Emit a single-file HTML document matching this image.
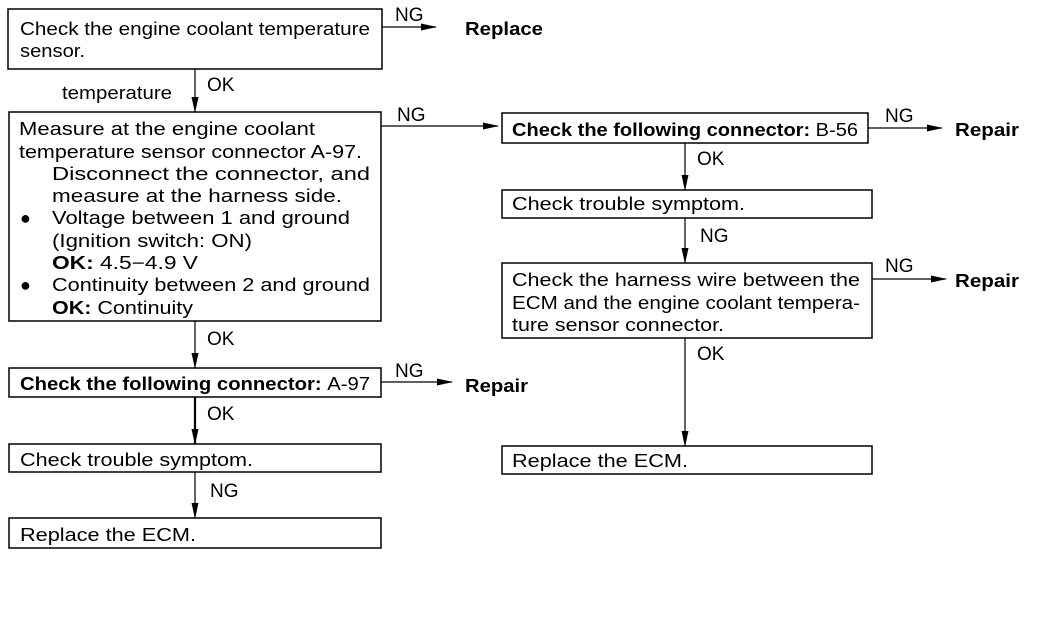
<!DOCTYPE html>
<html><head><meta charset="utf-8"><style>
html,body{margin:0;padding:0;background:#fff;}
svg{display:block;}
text{font-family:"Liberation Sans",sans-serif;font-size:18px;fill:#000;}
.b{font-weight:bold;}
.l{font-size:19px;}
</style></head><body>
<svg width="1040" height="624" viewBox="0 0 1040 624" xmlns="http://www.w3.org/2000/svg">
<defs>
<marker id="a" markerWidth="16" markerHeight="9" refX="15" refY="4.5" orient="auto" markerUnits="userSpaceOnUse">
<path d="M0,1 L16,4.5 L0,8 Z" fill="#000"/>
</marker>
</defs>
<g fill="none" stroke="#000" stroke-width="1.5">
<rect x="8" y="9" width="374" height="60"/>
<rect x="9" y="112" width="372" height="209"/>
<rect x="9" y="368" width="372" height="29"/>
<rect x="9" y="444" width="372" height="28"/>
<rect x="9" y="518" width="372" height="30"/>
<rect x="502" y="113" width="366" height="30"/>
<rect x="502" y="190" width="370" height="28"/>
<rect x="502" y="263" width="370" height="75"/>
<rect x="502" y="446" width="370" height="28"/>
</g>
<g stroke="#000" stroke-width="1.2" fill="none">
<line x1="382" y1="27" x2="436" y2="27" marker-end="url(#a)"/>
<line x1="195" y1="69" x2="195" y2="112" marker-end="url(#a)"/>
<line x1="381" y1="126" x2="498" y2="126" marker-end="url(#a)"/>
<line x1="868" y1="128" x2="942" y2="128" marker-end="url(#a)"/>
<line x1="685" y1="143" x2="685" y2="190" marker-end="url(#a)"/>
<line x1="685" y1="218" x2="685" y2="263" marker-end="url(#a)"/>
<line x1="872" y1="279" x2="946" y2="279" marker-end="url(#a)"/>
<line x1="685" y1="338" x2="685" y2="446" marker-end="url(#a)"/>
<line x1="195" y1="321" x2="195" y2="368" marker-end="url(#a)"/>
<line x1="381" y1="382" x2="452" y2="382" marker-end="url(#a)"/>
<line x1="195" y1="397" x2="195" y2="444" stroke-width="2.2" marker-end="url(#a)"/>
<line x1="195" y1="472" x2="195" y2="518" marker-end="url(#a)"/>
</g>
<text x="20" y="35" textLength="350" lengthAdjust="spacingAndGlyphs">Check the engine coolant temperature</text>
<text x="20" y="57" textLength="65" lengthAdjust="spacingAndGlyphs">sensor.</text>
<text x="395" y="21" class="l">NG</text>
<text x="465" y="35" class="b" textLength="78" lengthAdjust="spacingAndGlyphs">Replace</text>
<text x="62" y="99" textLength="110" lengthAdjust="spacingAndGlyphs">temperature</text>
<text x="207" y="91" class="l">OK</text>
<text x="397" y="121" class="l">NG</text>
<text x="19" y="135" textLength="296" lengthAdjust="spacingAndGlyphs">Measure at the engine coolant</text>
<text x="19" y="158" textLength="343" lengthAdjust="spacingAndGlyphs">temperature sensor connector A-97.</text>
<text x="52" y="180" textLength="318" lengthAdjust="spacingAndGlyphs">Disconnect the connector, and</text>
<text x="52" y="202" textLength="290" lengthAdjust="spacingAndGlyphs">measure at the harness side.</text>
<text x="20" y="224">●</text>
<text x="52" y="224" textLength="298" lengthAdjust="spacingAndGlyphs">Voltage between 1 and ground</text>
<text x="52" y="247" textLength="200" lengthAdjust="spacingAndGlyphs">(Ignition switch: ON)</text>
<text x="52" y="269" textLength="146" lengthAdjust="spacingAndGlyphs"><tspan class="b">OK:</tspan> 4.5−4.9 V</text>
<text x="20" y="291">●</text>
<text x="52" y="291" textLength="318" lengthAdjust="spacingAndGlyphs">Continuity between 2 and ground</text>
<text x="52" y="314" textLength="141" lengthAdjust="spacingAndGlyphs"><tspan class="b">OK:</tspan> Continuity</text>
<text x="207" y="345" class="l">OK</text>
<text x="20" y="390" class="b" textLength="350" lengthAdjust="spacingAndGlyphs">Check the following connector: <tspan font-weight="normal">A-97</tspan></text>
<text x="395" y="377" class="l">NG</text>
<text x="465" y="392" class="b" textLength="63" lengthAdjust="spacingAndGlyphs">Repair</text>
<text x="207" y="420" class="l">OK</text>
<text x="20" y="466" textLength="233" lengthAdjust="spacingAndGlyphs">Check trouble symptom.</text>
<text x="210" y="497" class="l">NG</text>
<text x="20" y="541" textLength="176" lengthAdjust="spacingAndGlyphs">Replace the ECM.</text>
<text x="512" y="136" class="b" textLength="346" lengthAdjust="spacingAndGlyphs">Check the following connector: <tspan font-weight="normal">B-56</tspan></text>
<text x="885" y="122" class="l">NG</text>
<text x="955" y="136" class="b" textLength="64" lengthAdjust="spacingAndGlyphs">Repair</text>
<text x="697" y="165" class="l">OK</text>
<text x="512" y="210" textLength="233" lengthAdjust="spacingAndGlyphs">Check trouble symptom.</text>
<text x="700" y="242" class="l">NG</text>
<text x="512" y="286" textLength="348" lengthAdjust="spacingAndGlyphs">Check the harness wire between the</text>
<text x="512" y="309" textLength="348" lengthAdjust="spacingAndGlyphs">ECM and the engine coolant tempera-</text>
<text x="512" y="331" textLength="212" lengthAdjust="spacingAndGlyphs">ture sensor connector.</text>
<text x="885" y="272" class="l">NG</text>
<text x="955" y="287" class="b" textLength="64" lengthAdjust="spacingAndGlyphs">Repair</text>
<text x="697" y="360" class="l">OK</text>
<text x="512" y="467" textLength="176" lengthAdjust="spacingAndGlyphs">Replace the ECM.</text>
</svg>
</body></html>
